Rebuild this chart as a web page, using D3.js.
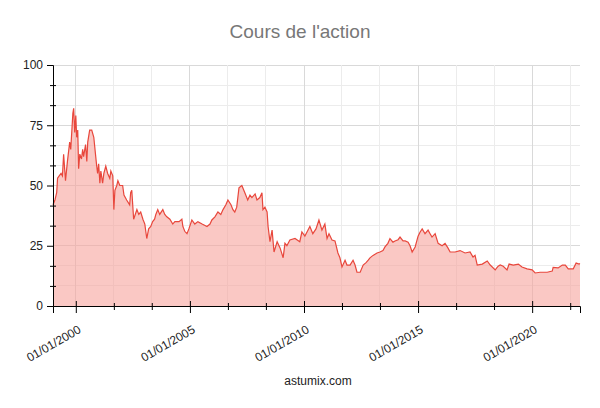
<!DOCTYPE html>
<html><head><meta charset="utf-8">
<script src="https://cdn.jsdelivr.net/npm/d3@7"></script>
<style>body{margin:0;background:#fff;font-family:"Liberation Sans",Arial,sans-serif}</style>
</head><body><svg id="c" width="600" height="408"></svg>
<script>
const title = "Cours de l'action";
const footer = "astumix.com";
const dates = ["1999-01-01","1999-02-01","1999-03-01","1999-03-15","1999-04-10","1999-05-10","1999-06-01","1999-06-20","1999-07-20","1999-08-20","1999-09-25","1999-10-12","1999-11-15","1999-11-28","1999-12-15","2000-01-01","2000-01-15","2000-02-01","2000-02-15","2000-03-05","2000-04-01","2000-04-20","2000-05-05","2000-06-05","2000-06-25","2000-07-10","2000-08-10","2000-09-12","2000-10-15","2000-11-15","2000-12-01","2000-12-15","2001-01-01","2001-01-20","2001-02-05","2001-03-05","2001-03-25","2001-04-25","2001-05-25","2001-06-28","2001-07-15","2001-08-15","2001-09-01","2001-09-18","2001-10-18","2001-11-05","2001-12-05","2002-01-20","2002-02-10","2002-03-25","2002-05-12","2002-05-28","2002-06-15","2002-07-15","2002-09-05","2002-10-05","2002-11-05","2002-12-10","2003-01-10","2003-01-25","2003-02-10","2003-03-12","2003-04-15","2003-05-15","2003-06-15","2003-07-05","2003-08-05","2003-09-05","2003-10-25","2003-11-25","2003-12-28","2004-02-15","2004-04-01","2004-05-05","2004-07-10","2004-08-25","2004-09-10","2004-10-10","2004-11-15","2004-12-15","2005-02-01","2005-03-20","2005-05-08","2005-07-15","2005-10-01","2005-11-18","2005-12-18","2006-02-05","2006-03-25","2006-05-10","2006-06-15","2006-07-30","2006-09-01","2006-10-20","2006-11-20","2006-12-20","2007-01-20","2007-02-25","2007-04-12","2007-05-30","2007-07-15","2007-08-20","2007-09-20","2007-11-10","2007-12-10","2008-01-25","2008-02-28","2008-03-15","2008-04-15","2008-05-20","2008-06-05","2008-07-05","2008-08-08","2008-09-08","2008-10-28","2008-12-15","2009-02-01","2009-03-02","2009-04-02","2009-05-20","2009-08-10","2009-10-25","2009-11-28","2010-01-15","2010-02-18","2010-04-05","2010-05-22","2010-07-12","2010-08-28","2010-10-15","2010-12-01","2011-01-05","2011-02-05","2011-03-25","2011-05-12","2011-06-28","2011-07-30","2011-09-01","2011-10-20","2011-11-20","2012-01-08","2012-02-25","2012-03-28","2012-04-28","2012-06-18","2012-08-05","2012-09-20","2012-10-25","2012-11-22","2013-01-10","2013-03-15","2013-05-01","2013-06-18","2013-07-20","2013-09-05","2013-10-08","2013-11-25","2013-12-28","2014-02-15","2014-03-18","2014-05-05","2014-06-08","2014-07-25","2014-08-25","2014-09-28","2014-11-15","2015-01-01","2015-02-03","2015-03-08","2015-04-22","2015-06-10","2015-07-12","2015-08-12","2015-10-01","2015-11-18","2016-01-20","2016-03-08","2016-04-25","2016-05-28","2016-08-15","2016-11-03","2017-01-22","2017-04-12","2017-05-30","2017-07-01","2017-08-05","2017-10-25","2018-01-12","2018-03-01","2018-05-20","2018-07-05","2018-08-08","2018-09-25","2018-11-25","2018-12-28","2019-03-05","2019-05-25","2019-07-22","2019-10-12","2020-01-01","2020-02-18","2020-05-08","2020-08-28","2020-11-18","2020-12-02","2021-02-20","2021-04-28","2021-06-15","2021-08-01","2021-10-20","2021-12-05","2022-01-22","2022-02-05"];
const prices = [42,44,47,53,54,55,54,63,52,60,68,65,80,82,72,79,70,73,57,63,61,65,62,67,60,68,73,73,70,62,58,55,59,51,56,51,55,58,55,53,56,54,40,48,50,52,50,50,46,44,42,47,48,36,40,38,39,36,34,31,28,32,33,35,36,38,40,38,40,38,37,36,34,35,35,36,33,31,30,32,35.7,34,35,34,33,34,35.7,37,39,38,40,42,44,42,40,39,41,49,50,47,44,46,45,46.5,44,45,47,40,41,39,33,26.7,31.5,22.4,26.7,24,20,26,25,27.4,28,26.7,30.7,29,30.7,33,30,32,35.7,31.5,34,28,30,27.4,27,22,20,16.2,19,17,17,19,17,14,14,17,18,19,20,21,22,22.4,23,24.5,26,28,26.5,27,27.5,28.6,27,27,26.5,25,22.4,24.5,29,30.7,32,30,31.5,30,28.6,30,26,25,26,24,22.4,22.4,23,22,22.4,20.3,21,17,17.4,18.7,17,15,16.5,17,16.5,15,17.4,17,17.4,16.2,15.4,15,13.7,14,14,14.5,16,15.8,17,17,15.4,15.4,17.8,17.4,17.6];
const yTicks = [0,25,50,75,100];
const xTickYears = [2000,2005,2010,2015,2020];

const data = dates.map((d,i)=>({date:new Date(d+"T00:00:00"), v:prices[i]}));
const svg = d3.select("#c");
const m = {l:53, r:20, t:65, b:102};
const W = 600, H = 408;
const x = d3.scaleTime().domain(d3.extent(data,d=>d.date)).range([m.l, W-m.r]);
const y = d3.scaleLinear().domain([0,100]).range([H-m.b, m.t]);

// ticks
const minorY = d3.range(0, 100.01, 25/3);
const minorX = [];
for (let k=-3;k<=15;k++){ const d=new Date(2000,0,1); d.setMonth(d.getMonth()+k*20); if(d>=x.domain()[0]&&d<=x.domain()[1]) minorX.push(d);}
const majorX = xTickYears.map(yy=>new Date(yy,0,1));

const g = svg.append("g");
g.selectAll(".gy").data(minorY).join("line")
  .attr("x1",m.l).attr("x2",W-m.r).attr("y1",d=>y(d)).attr("y2",d=>y(d))
  .attr("stroke",d=>Math.abs(d%25)<1e-6?"#d9d9d9":"#ececec").attr("stroke-width",1).attr("shape-rendering","crispEdges");
g.selectAll(".gx").data(minorX).join("line")
  .attr("x1",d=>x(d)).attr("x2",d=>x(d)).attr("y1",m.t).attr("y2",H-m.b)
  .attr("stroke",d=>d.getMonth()===0&&d.getFullYear()%5===0?"#d9d9d9":"#ececec").attr("stroke-width",1).attr("shape-rendering","crispEdges");

// area and line
svg.append("path").datum(data).attr("fill","#f7a39c").attr("fill-opacity",0.6)
  .attr("d", d3.area().x(d=>x(d.date)).y0(y(0)).y1(d=>y(d.v)));
svg.append("path").datum(data).attr("fill","none").attr("stroke","#e8473c").attr("stroke-width",1.2)
  .attr("d", d3.line().x(d=>x(d.date)).y(d=>y(d.v)));

// axes
const fmt = d3.timeFormat("%d/%m/%Y");
const yAx = svg.append("g").attr("transform",`translate(${m.l},0)`)
  .call(d3.axisLeft(y).tickValues(yTicks).tickSize(6).tickPadding(4));
yAx.select(".domain").attr("stroke","#000");
yAx.selectAll("text").attr("font-size",12).attr("fill","#222").attr("font-family","Liberation Sans, Arial, sans-serif");
svg.append("g").attr("transform",`translate(${m.l},0)`).selectAll("line").data(minorY.filter(d=>Math.abs(d%25)>1e-6)).join("line")
  .attr("x1",-3).attr("x2",3).attr("y1",d=>y(d)+0.5).attr("y2",d=>y(d)+0.5).attr("stroke","#000");

const xAx = svg.append("g").attr("transform",`translate(0,${H-m.b})`)
  .call(d3.axisBottom(x).tickValues(majorX).tickSize(7).tickFormat(""));
xAx.select(".domain").attr("stroke","#000");
xAx.selectAll(".tick line").attr("y1",-5);
svg.append("g").attr("transform",`translate(0,${H-m.b})`).selectAll("line").data(minorX.filter(d=>!(d.getMonth()===0&&d.getFullYear()%5===0))).join("line")
  .attr("x1",d=>x(d)+0.5).attr("x2",d=>x(d)+0.5).attr("y1",-3).attr("y2",4).attr("stroke","#000");
svg.append("g").selectAll("text").data(majorX).join("text")
  .attr("transform",d=>`translate(${x(d)+6},${H-m.b+26}) rotate(-30)`)
  .attr("text-anchor","end").attr("font-size",12).attr("fill","#222")
  .text(d=>fmt(d));

svg.append("text").attr("x",300).attr("y",38).attr("text-anchor","middle")
  .attr("font-size",19).attr("fill","#777").text(title);
svg.append("text").attr("x",318).attr("y",385).attr("text-anchor","middle")
  .attr("font-size",12).attr("fill","#222").text(footer);
</script></body></html>
